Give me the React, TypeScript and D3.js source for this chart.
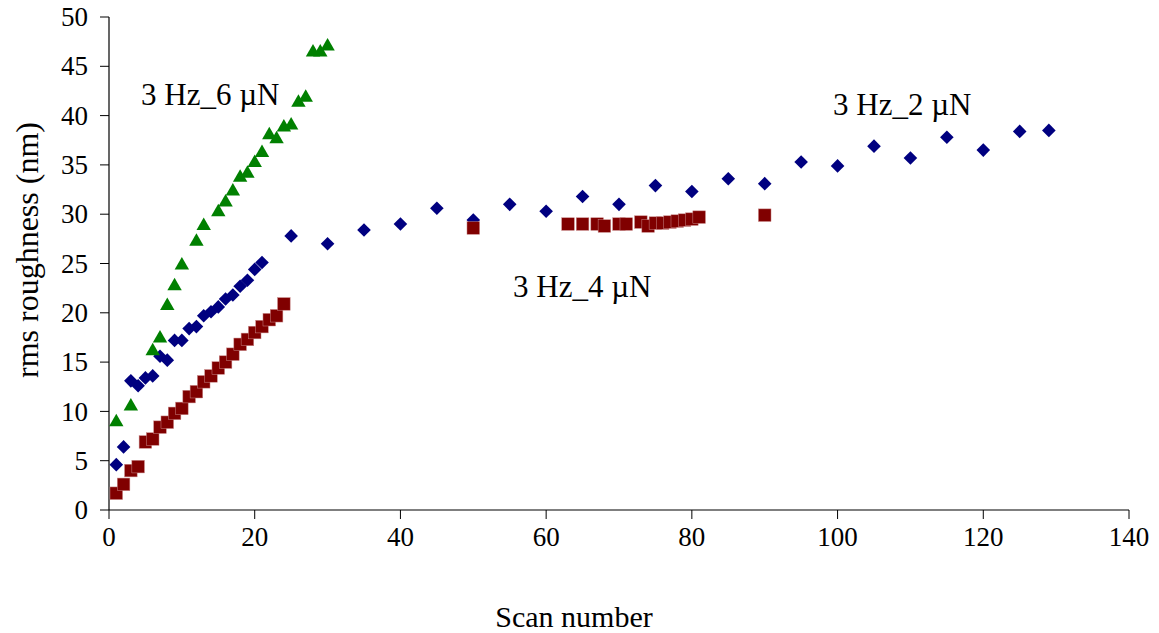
import React from 'react';
import * as d3 from 'd3';

// 3 Hz, 2 µN series
const scan2uN = [1, 2, 3, 4, 5, 6, 7, 8, 9, 10, 11, 12, 13, 14, 15, 16, 17, 18, 19, 20, 21, 25, 30, 35, 40, 45, 50, 55, 60, 65, 70, 75, 80, 85, 90, 95, 100, 105, 110, 115, 120, 125, 129];
const rms2uN = [4.6, 6.4, 13.1, 12.6, 13.4, 13.6, 15.6, 15.2, 17.2, 17.2, 18.4, 18.6, 19.7, 20.1, 20.6, 21.4, 21.8, 22.7, 23.3, 24.4, 25.1, 27.8, 27.0, 28.4, 29.0, 30.6, 29.4, 31.0, 30.3, 31.8, 31.0, 32.9, 32.3, 33.6, 33.1, 35.3, 34.9, 36.9, 35.7, 37.8, 36.5, 38.4, 38.5];

// 3 Hz, 4 µN series
const scan4uN = [1, 2, 3, 4, 5, 6, 7, 8, 9, 10, 11, 12, 13, 14, 15, 16, 17, 18, 19, 20, 21, 22, 23, 24, 50, 63, 65, 67, 68, 70, 71, 73, 74, 75, 76, 77, 78, 79, 80, 81, 90];
const rms4uN = [1.7, 2.6, 4.0, 4.4, 6.9, 7.2, 8.4, 8.9, 9.8, 10.3, 11.5, 12.0, 13.0, 13.6, 14.4, 15.0, 15.8, 16.8, 17.3, 18.0, 18.6, 19.3, 19.7, 20.9, 28.6, 29.0, 29.0, 29.0, 28.8, 29.0, 29.0, 29.2, 28.8, 29.1, 29.1, 29.2, 29.3, 29.4, 29.5, 29.7, 29.9];

// 3 Hz, 6 µN series
const scan6uN = [1, 3, 6, 7, 8, 9, 10, 12, 13, 15, 16, 17, 18, 19, 20, 21, 22, 23, 24, 25, 26, 27, 28, 29, 30];
const rms6uN = [9.0, 10.6, 16.2, 17.5, 20.8, 22.8, 24.9, 27.3, 28.9, 30.3, 31.3, 32.4, 33.8, 34.2, 35.3, 36.3, 38.1, 37.7, 38.9, 39.1, 41.4, 41.9, 46.5, 46.5, 47.1];

const xTicks = [0, 20, 40, 60, 80, 100, 120, 140];
const yTicks = [0, 5, 10, 15, 20, 25, 30, 35, 40, 45, 50];

const seriesLabels = ['3 Hz_2 \u00B5N', '3 Hz_4 \u00B5N', '3 Hz_6 \u00B5N'];

const FONT = '"Liberation Serif", "Times New Roman", serif';

export default function App() {
  const W = 1159;
  const H = 633;
  const x = d3.scaleLinear().domain([0, 140]).range([109, 1129]);
  const y = d3.scaleLinear().domain([0, 50]).range([510, 17]);

  const diamond = 'M0,-6.8L6.8,0L0,6.8L-6.8,0Z';
  const triangle = 'M0,-7.5L7.2,5L-7.2,5Z';
  const sq = 12.6;

  const pts = (xs: number[], ys: number[]) => xs.map((v, i) => [x(v), y(ys[i])]);

  return (
    <svg width={W} height={H} style={{ position: 'absolute', left: 0, top: 0, background: '#fff' }} fontFamily={FONT}>
      <rect width={W} height={H} fill="#fff" />

      {/* axes */}
      <line x1={x(0)} x2={x(0)} y1={y(50)} y2={y(0)} stroke="#000" strokeWidth={1.2} />
      <line x1={x(0)} x2={x(140)} y1={y(0)} y2={y(0)} stroke="#000" strokeWidth={1.2} />
      {yTicks.map((t) => (
        <g key={'y' + t}>
          <line x1={x(0) - 9} x2={x(0)} y1={y(t)} y2={y(t)} stroke="#000" strokeWidth={1} />
          <text x={88} y={y(t)} dy="0.34em" textAnchor="end" fontSize={27} fill="#000">{t}</text>
        </g>
      ))}
      {xTicks.map((t) => (
        <g key={'x' + t}>
          <line x1={x(t)} x2={x(t)} y1={y(0)} y2={y(0) + 9} stroke="#000" strokeWidth={1} />
          <text x={x(t)} y={546} textAnchor="middle" fontSize={27} fill="#000">{t}</text>
        </g>
      ))}

      <text x={574} y={627} textAnchor="middle" fontSize={30} fill="#000">Scan number</text>
      <text transform={`translate(38,250) rotate(-90)`} textAnchor="middle" fontSize={32} fill="#000">rms roughness (nm)</text>

      {/* 2 µN: diamonds */}
      {pts(scan2uN, rms2uN).map(([px, py], i) => (
        <path key={'d' + i} d={diamond} transform={`translate(${px},${py})`} fill="#000080" />
      ))}
      {/* 4 µN: squares */}
      {pts(scan4uN, rms4uN).map(([px, py], i) => (
        <rect key={'s' + i} x={px - sq / 2} y={py - sq / 2} width={sq} height={sq} fill="#800000" stroke="#c98a8a" strokeWidth={0.5} />
      ))}
      {/* 6 µN: triangles */}
      {pts(scan6uN, rms6uN).map(([px, py], i) => (
        <path key={'t' + i} d={triangle} transform={`translate(${px},${py})`} fill="#008000" />
      ))}

      {/* series annotations */}
      <text x={833} y={115} fontSize={31} fill="#000">{seriesLabels[0]}</text>
      <text x={513} y={297} fontSize={31} fill="#000">{seriesLabels[1]}</text>
      <text x={141} y={105} fontSize={31} fill="#000">{seriesLabels[2]}</text>
    </svg>
  );
}
